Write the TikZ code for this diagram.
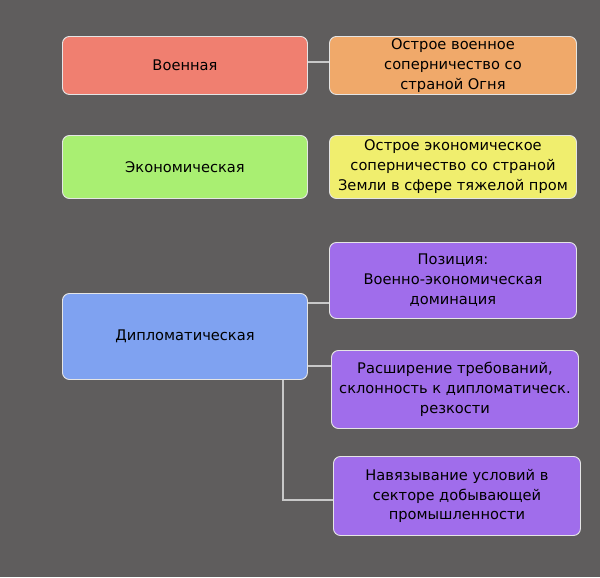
\documentclass[tikz,border=0pt]{standalone}
\usepackage{fontspec}
\setmainfont{DejaVu Sans}
\usetikzlibrary{positioning}
\definecolor{bgdark}{HTML}{5F5D5D}
\definecolor{salmonred}{HTML}{F07F70}
\definecolor{softorange}{HTML}{F0A96A}
\definecolor{limegreen}{HTML}{A9EF72}
\definecolor{paleyellow}{HTML}{F0EE6E}
\definecolor{skyblue}{HTML}{7FA2F1}
\definecolor{lilac}{HTML}{A06DEB}
\definecolor{wireline}{HTML}{C8C8C8}

\begin{document}
\begin{tikzpicture}[
    x=0.03cm, y=-0.03cm,
    card/.style={draw=white!80!gray, line width=0.8pt, rounded corners=6pt, anchor=north west, align=center, inner sep=1pt, font=\fontsize{12.5}{17}\selectfont, text=black},
    wire/.style={draw=wireline, line width=1.5pt}
  ]
  % Background
  \fill[bgdark] (0,0) rectangle (600,577);
  \useasboundingbox (0,0) rectangle (600,577);

  % Connectors go under the cards
  \coordinate (trunk) at (283,370);
  \coordinate (bend) at (283,500);
  \draw[wire] (200,62) -- (400,62);
  \draw[wire] (200,303) -- (400,303);
  \draw[wire] (200,366) -- (400,366);
  \draw[wire] (trunk) -- (bend) -- ++(100,0);

  % Left column
  \node[card, fill=salmonred, minimum width=245*0.03cm, minimum height=58*0.03cm] (military) at (62,36) {Военная};
  \node[card, fill=limegreen, minimum width=245*0.03cm, minimum height=63*0.03cm] (economic) at (62,135) {Экономическая};
  \node[card, fill=skyblue, minimum width=245*0.03cm, minimum height=86*0.03cm] (diplomatic) at (62,293) {Дипломатическая};

  % Right column
  \node[card, fill=softorange, minimum width=247*0.03cm, minimum height=58*0.03cm] (rivalfire) at (329,36) {Острое военное\\соперничество со\\страной Огня};
  \node[card, fill=paleyellow, minimum width=247*0.03cm, minimum height=63*0.03cm] (rivalearth) at (329,135) {Острое экономическое\\соперничество со страной\\Земли в сфере тяжелой пром};
  \node[card, fill=lilac, minimum width=247*0.03cm, minimum height=76*0.03cm] (position) at (329,242) {Позиция:\\ Военно-экономическая\\доминация};
  \node[card, fill=lilac, minimum width=247*0.03cm, minimum height=78*0.03cm] (demands) at (331,350) {Расширение требований,\\склонность к дипломатическ.\\резкости};
  \node[card, fill=lilac, minimum width=247*0.03cm, minimum height=79*0.03cm] (terms) at (333,456) {Навязывание условий в\\секторе  добывающей\\промышленности};
\end{tikzpicture}
\end{document}
